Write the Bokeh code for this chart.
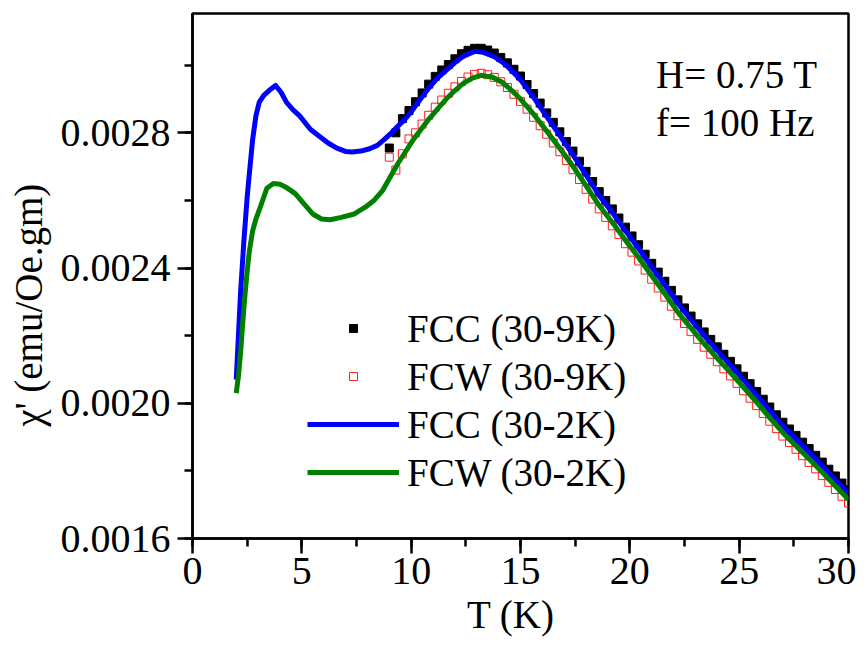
from bokeh.plotting import figure
from bokeh.models import (Range1d, SingleIntervalTicker, PrintfTickFormatter,
                          Legend, LegendItem, Label, ColumnDataSource)
from bokeh.embed import file_html
from bokeh.resources import INLINE

# ---------------- data ----------------
# FCC (30-2K) : blue line
fcc2_T = [2.0, 2.1, 2.2, 2.35, 2.5, 2.6, 2.75, 2.9, 3.05, 3.25, 3.5, 3.8, 4.05, 4.3,
          4.6, 4.9, 5.4, 5.8, 6.2, 6.6, 7.0, 7.3, 7.7, 8.1, 8.45, 8.75, 9.1, 9.4,
          9.7, 10.0, 10.4, 10.8, 11.2, 11.6, 12.0, 12.4, 12.9, 13.3, 13.8, 14.3,
          14.7, 15.0, 15.6, 16.2, 16.8, 17.4, 18.0, 18.6, 19.2, 19.8, 20.4, 21.0,
          21.6, 22.2, 22.8, 23.4, 24.0, 24.6, 25.2, 25.8, 26.4, 27.0, 27.6, 28.2,
          28.8, 29.4, 30.0]
fcc2_chi = [0.00207, 0.00220, 0.00233, 0.00248, 0.00261, 0.00268, 0.00278, 0.00285,
            0.00289, 0.00291, 0.002925, 0.00294, 0.00292, 0.00289, 0.002868, 0.00285,
            0.00281, 0.00279, 0.00277, 0.002755, 0.002745, 0.002743, 0.002746,
            0.002753, 0.002763, 0.002779, 0.0028, 0.00282, 0.002839, 0.002862,
            0.002898, 0.002932, 0.002962, 0.002985, 0.003008, 0.003027, 0.003041,
            0.003038, 0.003025, 0.003003, 0.002977, 0.002957, 0.002905, 0.002848,
            0.002792, 0.002735, 0.002675, 0.002615, 0.002564, 0.00251, 0.002458,
            0.002403, 0.00235, 0.002295, 0.002247, 0.0022, 0.002156, 0.002113,
            0.002069, 0.002024, 0.001978, 0.001933, 0.001894, 0.001855, 0.001815,
            0.001774, 0.001733]

# FCW (30-2K) : green line
fcw2_T = [2.0, 2.1, 2.2, 2.3, 2.4, 2.5, 2.6, 2.75, 2.9, 3.1, 3.4, 3.7, 4.0, 4.25,
          4.7, 5.1, 5.5, 5.9, 6.3, 6.8, 7.4, 7.9, 8.3, 8.7, 9.05, 9.4, 9.8, 10.1,
          10.45, 10.8, 11.2, 11.6, 12.0, 12.4, 12.8, 13.2, 13.7, 14.2, 14.6, 15.0,
          15.6, 16.2, 16.8, 17.4, 18.0, 18.6, 19.2, 19.8, 20.4, 21.0, 21.6, 22.2,
          22.8, 23.4, 24.0, 24.6, 25.2, 25.8, 26.4, 27.0, 27.6, 28.2, 28.8, 29.4,
          30.0]
fcw2_chi = [0.00203, 0.00208, 0.00215, 0.00224, 0.00232, 0.00239, 0.00245, 0.00251,
            0.002545, 0.00258, 0.002636, 0.00265, 0.002648, 0.00264, 0.00262,
            0.00259, 0.00256, 0.002545, 0.002543, 0.00255, 0.00256, 0.00258, 0.0026,
            0.00263, 0.00267, 0.00271, 0.00275, 0.00278, 0.00281, 0.00284, 0.00287,
            0.0029, 0.002925, 0.002947, 0.002962, 0.00297, 0.002965, 0.002948,
            0.002925, 0.0029, 0.002855, 0.002805, 0.002754, 0.002701, 0.002643,
            0.002585, 0.002535, 0.002482, 0.002431, 0.002377, 0.002324, 0.002269,
            0.002222, 0.002176, 0.002133, 0.002091, 0.002047, 0.002003, 0.001957,
            0.001913, 0.001874, 0.001835, 0.001796, 0.001755, 0.001715]

# temperatures of the 30-9K runs (square symbols)
sq_T = [9.0, 9.3, 9.6, 9.9, 10.2, 10.5, 10.8, 11.1, 11.4, 11.7, 12.0, 12.3, 12.6,
        12.9, 13.2, 13.5, 13.8, 14.1, 14.4, 14.7, 15.0, 15.3, 15.6, 15.9, 16.2,
        16.5, 16.8, 17.1, 17.4, 17.7, 18.0, 18.3, 18.6, 18.9, 19.2, 19.5, 19.8,
        20.1, 20.4, 20.7, 21.0, 21.3, 21.6, 21.9, 22.2, 22.5, 22.8, 23.1, 23.4,
        23.7, 24.0, 24.3, 24.6, 24.9, 25.2, 25.5, 25.8, 26.1, 26.4, 26.7, 27.0,
        27.3, 27.6, 27.9, 28.2, 28.5, 28.8, 29.1, 29.4, 29.7, 30.0]

# FCC (30-9K) : black filled squares
fcc9_chi = [0.002755, 0.0028, 0.002842, 0.002866, 0.002892, 0.002918, 0.002944,
            0.002967, 0.002986, 0.003002, 0.003019, 0.003034, 0.003044, 0.00305,
            0.00305, 0.003045, 0.003036, 0.003023, 0.003007, 0.002988, 0.002968,
            0.002943, 0.002916, 0.002888, 0.002859, 0.002831, 0.002803, 0.002774,
            0.002746, 0.002716, 0.002686, 0.002656, 0.002626, 0.0026, 0.002575,
            0.002548, 0.002521, 0.002495, 0.002469, 0.002441, 0.002414, 0.002388,
            0.002361, 0.002334, 0.002306, 0.002282, 0.002258, 0.002235, 0.002211,
            0.002189, 0.002167, 0.002145, 0.002124, 0.002102, 0.00208, 0.002058,
            0.002035, 0.002012, 0.001989, 0.001966, 0.001944, 0.001924, 0.001905,
            0.001885, 0.001866, 0.001846, 0.001826, 0.001805, 0.001785, 0.001764,
            0.001744]

# FCW (30-9K) : red open squares
fcw9_chi = [0.002728, 0.00269, 0.002738, 0.002782, 0.0028, 0.002826, 0.002852,
            0.002876, 0.002897, 0.002917, 0.002936, 0.002952, 0.002965, 0.002973,
            0.002976, 0.002972, 0.002964, 0.002951, 0.002934, 0.002914, 0.002893,
            0.00287, 0.002846, 0.002821, 0.002796, 0.00277, 0.002744, 0.002718,
            0.002691, 0.002662, 0.002633, 0.002604, 0.002575, 0.00255, 0.002525,
            0.002499, 0.002472, 0.002447, 0.002421, 0.002394, 0.002367, 0.002341,
            0.002314, 0.002287, 0.002259, 0.002236, 0.002212, 0.002189, 0.002166,
            0.002145, 0.002123, 0.002102, 0.002081, 0.002059, 0.002037, 0.002015,
            0.001993, 0.00197, 0.001947, 0.001925, 0.001903, 0.001884, 0.001864,
            0.001845, 0.001825, 0.001806, 0.001786, 0.001766, 0.001745, 0.001725,
            0.001705]

series_labels = ["FCC (30-9K)", "FCW (30-9K)", "FCC (30-2K)", "FCW (30-2K)"]
x_label = "T (K)"
y_label = "\u03c7' (emu/Oe.gm)"
note_lines = ["H= 0.75 T", "f= 100 Hz"]

# ---------------- figure ----------------
FONT = "Liberation Serif"
NBSP = "\u00a0"

p = figure(frame_width=656, frame_height=525, output_backend="svg",
           toolbar_location=None,
           x_range=Range1d(0, 30), y_range=Range1d(0.0016, 0.003153),
           min_border_left=192, min_border_right=8, min_border_top=13,
           min_border_bottom=100)
p.background_fill_color = "white"
p.border_fill_color = "white"
p.xgrid.visible = False
p.ygrid.visible = False
p.outline_line_color = "black"
p.outline_line_width = 2.5
p.outline_line_alpha = 1.0

for ax in (p.xaxis[0], p.yaxis[0]):
    ax.axis_line_width = 2.5
    ax.axis_line_color = "black"
    ax.major_tick_line_width = 2.5
    ax.minor_tick_line_width = 2.5
    ax.major_tick_line_color = "black"
    ax.minor_tick_line_color = "black"
    ax.major_tick_in = 0
    ax.major_tick_out = 15
    ax.minor_tick_in = 0
    ax.minor_tick_out = 8
    ax.major_label_text_font = FONT
    ax.major_label_text_font_size = "40px"
    ax.major_label_text_color = "black"
    ax.axis_label_text_font = FONT
    ax.axis_label_text_font_size = "39px"
    ax.axis_label_text_font_style = "normal"
    ax.axis_label_text_color = "black"

p.xaxis[0].ticker = SingleIntervalTicker(interval=5, num_minor_ticks=2)
p.yaxis[0].ticker = SingleIntervalTicker(interval=0.0004, num_minor_ticks=2)
p.yaxis[0].formatter = PrintfTickFormatter(format="%.4f")
p.xaxis[0].axis_label = x_label + NBSP * 2
p.yaxis[0].axis_label = y_label + NBSP * 6
p.xaxis[0].major_label_standoff = 4
p.xaxis[0].axis_label_standoff = 6
p.yaxis[0].major_label_standoff = 7
p.yaxis[0].axis_label_standoff = 8

src_fcc9 = ColumnDataSource(dict(T=sq_T, chi=fcc9_chi))
src_fcw9 = ColumnDataSource(dict(T=sq_T, chi=fcw9_chi))
src_fcc2 = ColumnDataSource(dict(T=fcc2_T, chi=fcc2_chi))
src_fcw2 = ColumnDataSource(dict(T=fcw2_T, chi=fcw2_chi))

r_fcc9 = p.scatter("T", "chi", source=src_fcc9, marker="square", size=8,
                   fill_color="black", line_color="black", line_width=1)
r_fcw9 = p.scatter("T", "chi", source=src_fcw9, marker="square", size=8,
                   fill_color=None, line_color="#ff2020", line_width=1)
r_fcc2 = p.line("T", "chi", source=src_fcc2, line_color="#0000ff", line_width=5,
                line_join="round")
r_fcw2 = p.line("T", "chi", source=src_fcw2, line_color="#008000", line_width=5,
                line_join="round")

legend = Legend(items=[LegendItem(label=series_labels[0], renderers=[r_fcc9]),
                       LegendItem(label=series_labels[1], renderers=[r_fcw9]),
                       LegendItem(label=series_labels[2], renderers=[r_fcc2]),
                       LegendItem(label=series_labels[3], renderers=[r_fcw2])],
                location=(115, 42), orientation="vertical")
legend.border_line_color = None
legend.background_fill_alpha = 0
legend.padding = 0
legend.margin = 0
legend.spacing = 0
legend.glyph_width = 92
legend.glyph_height = 20
legend.label_height = 48
legend.label_standoff = 8
legend.label_text_font = FONT
legend.label_text_font_size = "39px"
legend.label_text_color = "black"
p.add_layout(legend, "center")

note_y = [0.002972, 0.00283]
for txt, yy in zip(note_lines, note_y):
    p.add_layout(Label(x=21.2, y=yy, text=txt, text_font=FONT,
                       text_font_size="39px", text_color="black",
                       text_baseline="alphabetic", text_align="left"))

open("out.html", "w").write(file_html(p, INLINE))
